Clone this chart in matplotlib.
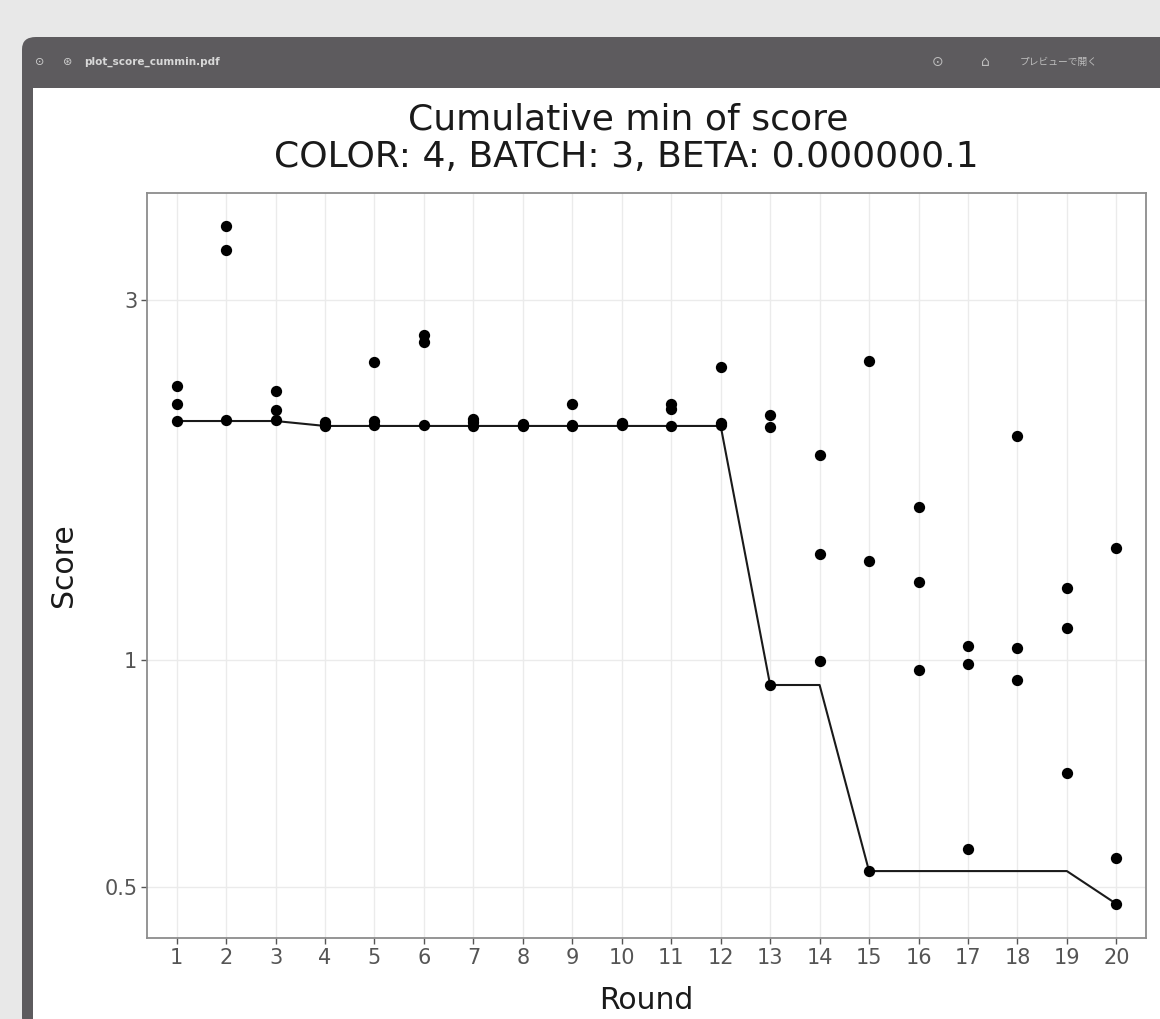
import numpy as np
import matplotlib
matplotlib.use("Agg")
import matplotlib.pyplot as plt
from matplotlib.patches import Rectangle, FancyBboxPatch
from matplotlib.ticker import FixedLocator, FixedFormatter, NullLocator

# ---------------- data ----------------
rounds = list(range(1, 21))
round_labels = [str(r) for r in rounds]
score_hi = [2.31, 3.76, 2.27, 2.07, 2.48, 2.70, 2.085, 2.055, 2.185, 2.06,
            2.185, 2.446, 2.113, 1.87, 2.491, 1.595, 1.044, 1.981, 1.246, 1.408]
score_mid = [2.185, 3.50, 2.145, 2.05, 2.075, 2.64, 2.065, 2.05, 2.05, 2.055,
             2.15, 2.06, 2.035, 1.382, 1.353, 1.269, 0.988, 1.037, 1.103, 0.546]
score_lo = [2.074, 2.08, 2.08, 2.043, 2.05, 2.05, 2.045, 2.045, 2.045, 2.05,
            2.045, 2.05, 0.9265, 0.997, 0.525, 0.970, 0.562, 0.941, 0.708, 0.475]
y_ticks = [0.5, 1, 3]
y_tick_labels = ["0.5", "1", "3"]
title_line1 = "Cumulative min of score"
title_line2 = "COLOR: 4, BATCH: 3, BETA: 0.000000.1"
window_title = "plot_score_cummin.pdf"
open_in_preview = "プレビューで開く"

W, H = 1160, 1019
fig = plt.figure(figsize=(W / 100, H / 100), dpi=100)
fig.patch.set_facecolor("#e8e8e8")

def fx(x):
    return x / W

def fy(y):
    return 1 - y / H

# ---------------- window chrome ----------------
fig.add_artist(FancyBboxPatch((fx(22), fy(1030)), fx(1200), fy(37) - fy(1030),
                              boxstyle="round,pad=0,rounding_size=0.012",
                              transform=fig.transFigure, facecolor="#5d5b5e",
                              edgecolor="none", zorder=0))
fig.add_artist(Rectangle((fx(33), 0), fx(1140), fy(88), transform=fig.transFigure,
                         facecolor="white", edgecolor="none", zorder=0.5))
fig.text(fx(40), fy(62), "⊙", color="#cfcfcf", fontsize=8, ha="center", va="center")
fig.text(fx(68), fy(62), "⊛", color="#cfcfcf", fontsize=8, ha="center", va="center")
fig.text(fx(84), fy(62), window_title, color="#d8d8d8", fontsize=7.5,
         fontweight="bold", ha="left", va="center")
fig.text(fx(938), fy(62), "⊙", color="#bdbdbd", fontsize=10, ha="center", va="center")
fig.text(fx(985), fy(62), "⌂", color="#bdbdbd", fontsize=10, ha="center", va="center")
fig.text(fx(1020), fy(62), open_in_preview, color="#bdbdbd", fontsize=7,
         family=["Noto Sans CJK JP", "DejaVu Sans"], ha="left", va="center")

# ---------------- titles ----------------
fig.text(fx(628), fy(120), title_line1, fontsize=26, ha="center", va="center",
         color="#1a1a1a")
fig.text(fx(626), fy(157), title_line2, fontsize=26, ha="center", va="center",
         color="#1a1a1a")

# ---------------- axes ----------------
ax = fig.add_axes([fx(147), fy(938), fx(1146 - 147), (938 - 193) / H])
ax.set_facecolor("white")
ax.set_zorder(2)

x = np.array(rounds, dtype=float)
for arr in (score_hi, score_mid, score_lo):
    ax.scatter(x, arr, s=66, color="black", zorder=3, linewidths=0)

round_min = np.minimum(np.minimum(score_hi, score_mid), score_lo)
cum_min = np.minimum.accumulate(round_min)
ax.plot(x, cum_min, color="#1a1a1a", lw=1.5, zorder=2.5)

ax.set_yscale("log")
ax.set_ylim(0.428, 4.16)
ax.set_xlim(0.4, 20.6)
ax.yaxis.set_major_locator(FixedLocator(y_ticks))
ax.yaxis.set_major_formatter(FixedFormatter(y_tick_labels))
ax.yaxis.set_minor_locator(NullLocator())
ax.set_xticks(x)
ax.set_xticklabels(round_labels)
ax.grid(True, which="major", color="#ebebeb", lw=1.0, zorder=0)
ax.set_axisbelow(True)
for sp in ax.spines.values():
    sp.set_color("#8c8c8c")
    sp.set_linewidth(1.3)
ax.tick_params(axis="both", which="major", length=4, width=1, color="#555555",
               labelcolor="#555555", labelsize=15, pad=3)
ax.set_xlabel("Round", fontsize=21.5, color="#1a1a1a", labelpad=13)
ax.set_ylabel("Score", fontsize=21.5, color="#1a1a1a", labelpad=19)

fig.savefig("out.png", dpi=100, facecolor=fig.get_facecolor())
